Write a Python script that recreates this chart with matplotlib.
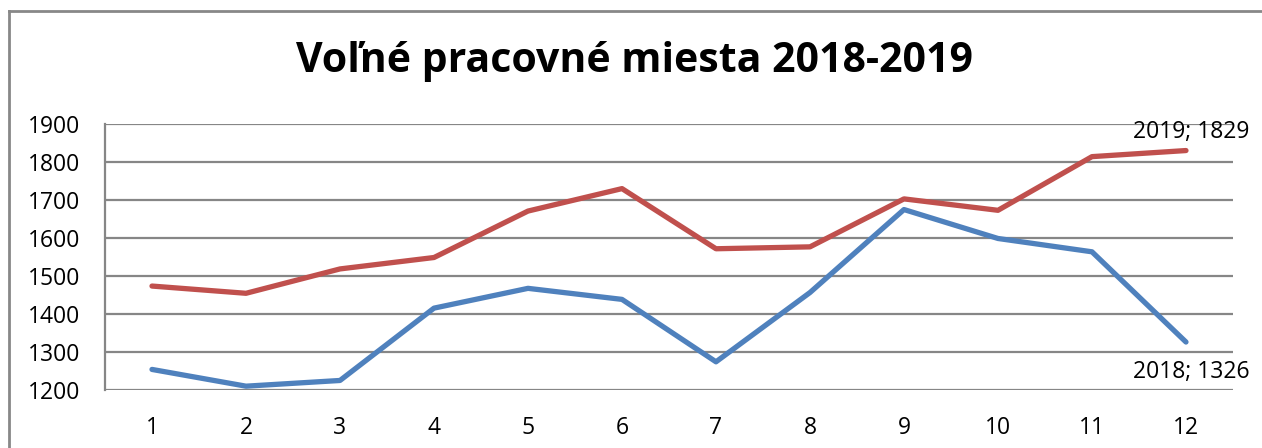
import matplotlib.pyplot as plt
from matplotlib.lines import Line2D

months = list(range(1, 13))
values_2018 = [1254, 1210, 1225, 1415, 1467, 1438, 1274, 1456, 1674, 1598, 1563, 1326]
values_2019 = [1473, 1454, 1518, 1548, 1670, 1729, 1571, 1576, 1702, 1672, 1813, 1829]
title = "Voľné pracovné miesta 2018-2019"
y_ticks = [1200, 1300, 1400, 1500, 1600, 1700, 1800, 1900]

plt.rcParams["font.family"] = ["Open Sans", "DejaVu Sans"]

fig = plt.figure(figsize=(12.62, 4.48), dpi=100)
ax = fig.add_axes([0.0832, 0.1295, 0.977 - 0.0832, 0.7243 - 0.1295])

ax.plot(months, values_2018, color="#4F81BD", lw=3.8, solid_capstyle="round", zorder=3)
ax.plot(months, values_2019, color="#C0504D", lw=3.8, solid_capstyle="round", zorder=3)

ax.set_xlim(0.5, 12.5)
ax.set_ylim(1200, 1900)
ax.set_xticks(months)
ax.set_xticklabels([str(m) for m in months])
ax.set_yticks(y_ticks)
ax.grid(axis="y", color="#868686", lw=1.6)
ax.set_axisbelow(True)
for s in ["top", "right", "bottom"]:
    ax.spines[s].set_visible(False)
ax.spines["left"].set_color("#868686")
ax.spines["left"].set_linewidth(1.6)
ax.tick_params(axis="both", length=0, labelsize=16.5)
ax.tick_params(axis="y", pad=18)
ax.tick_params(axis="x", pad=19)

ax.annotate(f"2019; {values_2019[-1]}", (months[-1], values_2019[-1]),
            xytext=(-38, 5), textcoords="offset points", fontsize=16.5, va="bottom")
ax.annotate(f"2018; {values_2018[-1]}", (months[-1], values_2018[-1]),
            xytext=(-38, -13), textcoords="offset points", fontsize=16.5, va="top")

fig.text(0.503, 0.862, title, ha="center", va="center", fontsize=29.5, fontweight="bold")

# outer frame (top and left only)
fig.add_artist(Line2D([9 / 1262, 9 / 1262], [0, 1 - 11 / 448], color="#888888", lw=2))
fig.add_artist(Line2D([9 / 1262, 1], [1 - 11 / 448, 1 - 11 / 448], color="#888888", lw=2))

fig.savefig("out.png", dpi=100)
